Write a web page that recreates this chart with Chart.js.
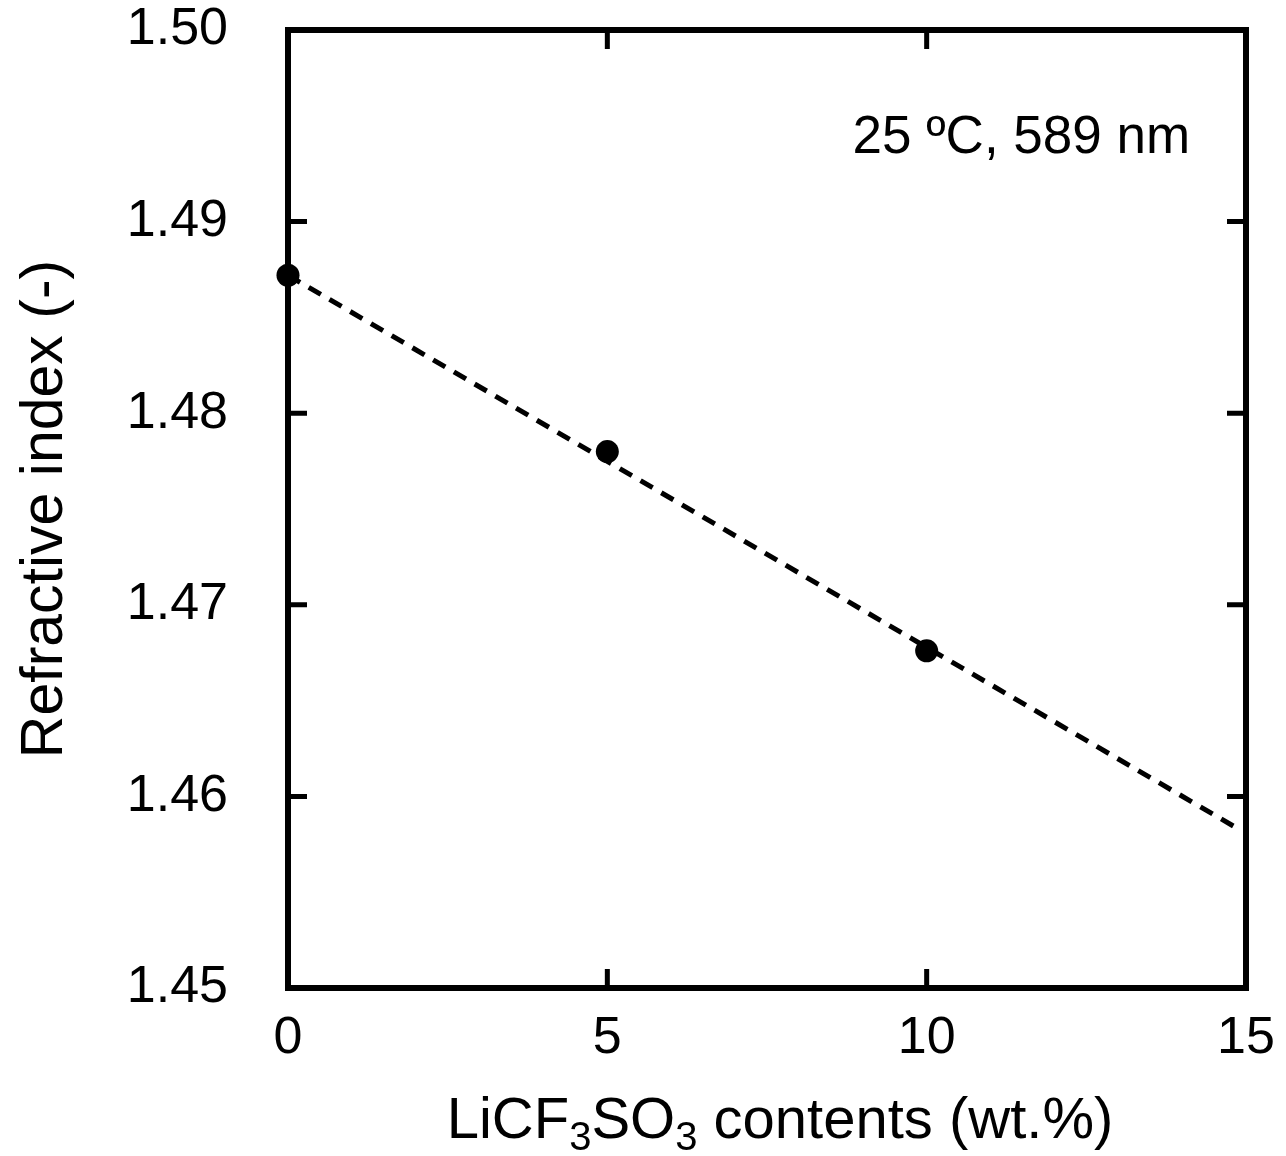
<!DOCTYPE html>
<html>
<head>
<meta charset="utf-8">
<script src="https://cdn.jsdelivr.net/npm/chart.js@4.4.0/dist/chart.umd.min.js"></script>
<style>
  html, body { margin: 0; padding: 0; background: #fff; }
  #wrap { width: 1286px; height: 1156px; }
</style>
</head>
<body>
<div id="wrap"><canvas id="refIndex"></canvas></div>
<script>
// measured points
let contents = [0, 5, 10];
let refractive = [1.4872, 1.4780, 1.4676];
// linear fit (dashed)
let fitX = [0, 14.83];
let fitY = [1.4872, 1.4584];
let xTicks = [0, 5, 10, 15];
let yTicks = [1.45, 1.46, 1.47, 1.48, 1.49, 1.50];

const FONT = "'Liberation Sans', Arial, sans-serif";

let pts = contents.map((c, i) => ({x: c, y: refractive[i]}));
let fit = fitX.map((c, i) => ({x: c, y: fitY[i]}));

function noPad(s) {
    s.paddingTop = 0; s.paddingBottom = 0;
    s.paddingLeft = 0; s.paddingRight = 0;
}

// box around plot + ticks pointing inward on all four sides
const frameTicks = {
    id: 'frameTicks',
    beforeDatasetsDraw(chart) {
        const c = chart.ctx;
        const a = chart.chartArea;
        const sx = chart.scales.x, sy = chart.scales.y;
        c.save();
        c.strokeStyle = '#000';
        c.lineWidth = 5;
        c.lineCap = 'butt';
        c.beginPath();
        xTicks.slice(1, -1).forEach(v => {
            let px = sx.getPixelForValue(v);
            c.moveTo(px, a.bottom); c.lineTo(px, a.bottom - 19);
            c.moveTo(px, a.top); c.lineTo(px, a.top + 19);
        });
        yTicks.slice(1, -1).forEach(v => {
            let py = sy.getPixelForValue(v);
            c.moveTo(a.left, py); c.lineTo(a.left + 19, py);
            c.moveTo(a.right, py); c.lineTo(a.right - 19, py);
        });
        c.stroke();
        c.lineWidth = 6;
        c.lineJoin = 'miter';
        c.strokeRect(a.left, a.top, a.right - a.left, a.bottom - a.top);
        c.restore();
    }
};

// x title with subscripts + condition note
const texts = {
    id: 'texts',
    afterDraw(chart) {
        const c = chart.ctx;
        const a = chart.chartArea;
        const sx = chart.scales.x, sy = chart.scales.y;
        c.save();
        c.fillStyle = '#000';
        c.textBaseline = 'alphabetic';
        c.textAlign = 'left';

        let parts = [['LiCF', 0], ['3', 1], ['SO', 0], ['3', 1], [' contents (wt.%)', 0]];
        let big = '58px ' + FONT, small = '40px ' + FONT;
        let w = 0;
        parts.forEach(p => { c.font = p[1] ? small : big; w += c.measureText(p[0]).width; });
        let x = 780 - w / 2 + (a.left - 288);
        let base = a.bottom + 150;
        parts.forEach(p => {
            c.font = p[1] ? small : big;
            c.fillText(p[0], x, p[1] ? base + 12 : base);
            x += c.measureText(p[0]).width;
        });

        c.font = '53px ' + FONT;
        c.fillText('25 \u00baC, 589 nm', sx.getPixelForValue(8.84), sy.getPixelForValue(1.4936));
        c.restore();
    }
};

new Chart(document.getElementById('refIndex').getContext('2d'), {
    type: 'scatter',
    data: {
        datasets: [{
            label: 'measured',
            data: pts,
            order: 0,
            pointRadius: 11.5,
            pointBackgroundColor: '#000',
            pointBorderWidth: 0,
            showLine: false,
            clip: false
        }, {
            label: 'fit',
            data: fit,
            order: 1,
            showLine: true,
            borderColor: '#000',
            borderWidth: 5,
            borderDash: [14, 10],
            pointRadius: 0,
            fill: false
        }]
    },
    options: {
        responsive: true,
        maintainAspectRatio: false,
        animation: false,
        layout: { padding: { left: 0, top: 30, right: 40, bottom: 0 } },
        plugins: {
            legend: { display: false },
            tooltip: { enabled: false }
        },
        scales: {
            x: {
                type: 'linear',
                min: 0, max: 15,
                afterFit(s) { s.height = 168; noPad(s); },
                afterBuildTicks(s) { s.ticks = xTicks.map(v => ({value: v})); },
                grid: { display: false, drawTicks: false },
                border: { display: false },
                ticks: {
                    color: '#000',
                    padding: 19,
                    font: { family: FONT, size: 52 }
                }
            },
            y: {
                type: 'linear',
                min: 1.45, max: 1.50,
                afterFit(s) { s.width = 288; noPad(s); },
                afterBuildTicks(s) { s.ticks = yTicks.map(v => ({value: v})); },
                grid: { display: false, drawTicks: false },
                border: { display: false },
                ticks: {
                    color: '#000',
                    padding: 60,
                    font: { family: FONT, size: 52 },
                    callback: v => v.toFixed(2)
                },
                title: {
                    display: true,
                    text: 'Refractive index (-)',
                    color: '#000',
                    padding: { top: 10, bottom: 0 },
                    font: { family: FONT, size: 59 }
                }
            }
        }
    },
    plugins: [frameTicks, texts]
});
</script>
</body>
</html>
